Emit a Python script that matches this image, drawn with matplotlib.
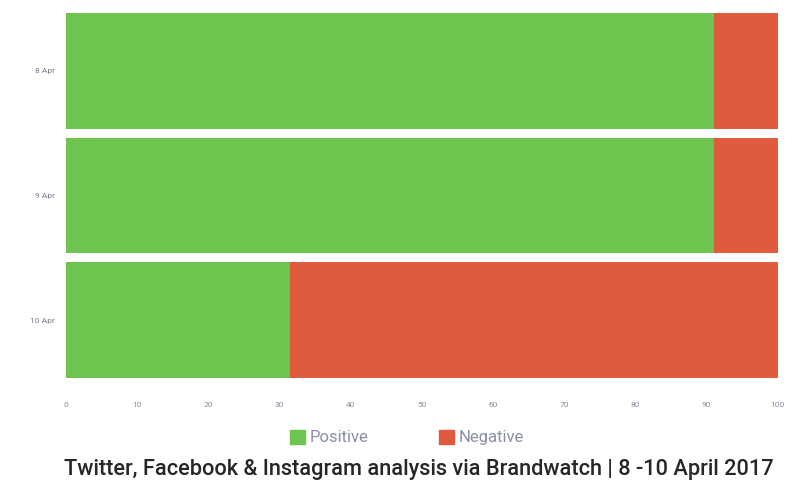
from matplotlib import pyplot as plt
from matplotlib.patches import Patch
import numpy as np

# dane
dni = ['8 Apr', '9 Apr', '10 Apr']
pozytywne = [91, 91, 31.5]
negatywne = [9, 9, 68.5]
ticki = list(range(0, 101, 10))

zielony = '#6fc44f'
czerwony = '#e05a3e'

plt.rcParams['font.family'] = ['Roboto', 'DejaVu Sans']

fig = plt.figure(figsize=(8.06, 5), dpi=100)
ax = fig.add_axes([0.082, 0.235, 0.883, 0.748])

y = np.arange(len(dni))
ax.barh(y, pozytywne, height=0.93, color=zielony)
ax.barh(y, negatywne, left=pozytywne, height=0.93, color=czerwony)

ax.set_ylim(len(dni) - 0.5, -0.5)
ax.set_xlim(0, 100)
ax.set_yticks(y)
ax.set_yticklabels(dni, fontsize=6, color='#7a7f90')
ax.set_xticks(ticki)
ax.set_xticklabels([str(t) for t in ticki], fontsize=6, color='#8a8fa0')
ax.tick_params(length=0, pad=8)
ax.tick_params(axis='x', pad=14)
for s in ax.spines.values():
    s.set_visible(False)

# legenda
uchwyty = [Patch(color=zielony, label='Positive'), Patch(color=czerwony, label='Negative')]
leg = fig.legend(handles=uchwyty, loc='center', bbox_to_anchor=(0.505, 0.125), ncol=2,
                 frameon=False, fontsize=12, handlelength=0.9, handleheight=0.9,
                 handletextpad=0.3, columnspacing=4.2)
for t in leg.get_texts():
    t.set_color('#8a8fa8')

fig.text(0.52, 0.06, 'Twitter, Facebook & Instagram analysis via Brandwatch | 8 -10 April 2017',
         ha='center', va='center', fontsize=15.7, color='#262626', fontweight='medium')

plt.savefig('out.png', dpi=100)
